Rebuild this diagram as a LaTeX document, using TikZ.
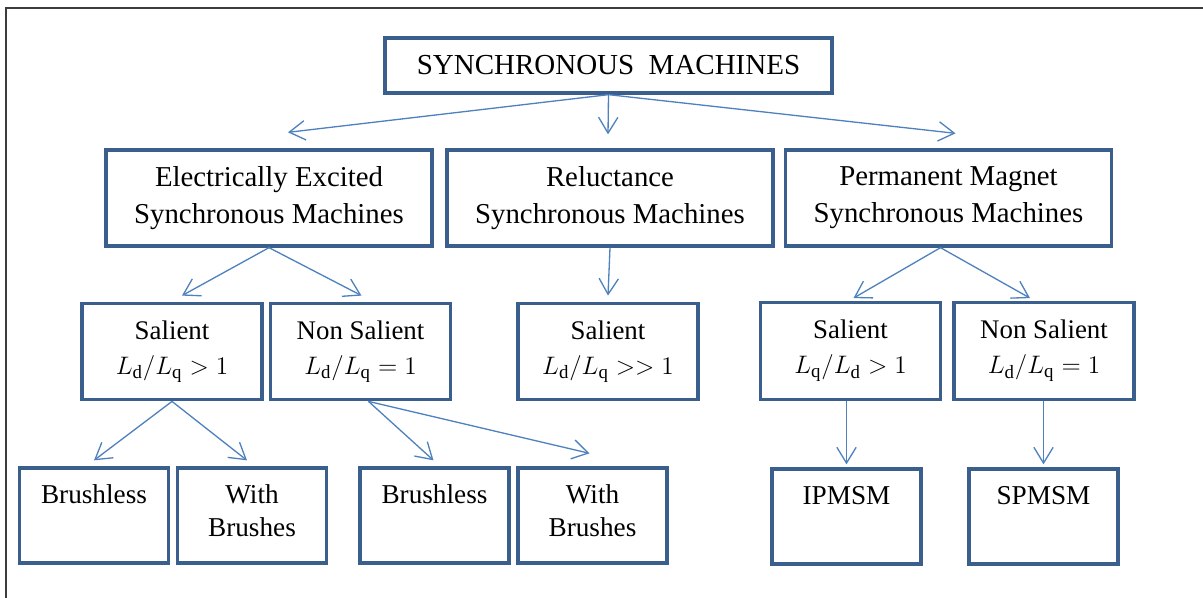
\documentclass[tikz,border=0pt]{standalone}
\usepackage{amsmath}
\usepackage{fontspec}
\setmainfont{Liberation Serif}
\usetikzlibrary{arrows.meta}
\definecolor{boxblue}{RGB}{58,95,140}
\definecolor{lineblue}{RGB}{79,129,189}
\definecolor{framegray}{RGB}{60,60,60}
\newcommand{\leaftext}[1]{\parbox[t][1.22cm][t]{2.8cm}{\centering #1}}
\tikzset{
  rootbox/.style={draw=boxblue, line width=1.9pt, minimum width=8.94cm, minimum height=1.1cm, font=\fontsize{16.5}{20}\selectfont},
  familybox/.style={draw=boxblue, line width=1.9pt, align=center, minimum width=6.52cm, minimum height=1.92cm, font=\fontsize{16.4}{21}\selectfont},
  typebox/.style={draw=boxblue, line width=1.9pt, align=center, minimum width=3.6cm, minimum height=1.93cm, font=\fontsize{15.3}{20}\selectfont},
  leafbox/.style={draw=boxblue, line width=1.9pt, inner sep=0pt, minimum width=2.98cm, minimum height=1.9cm, font=\fontsize{15.5}{18.5}\selectfont},
  conn/.style={draw=lineblue, line width=0.75pt, -{Straight Barb[length=9pt,width=11pt]}}
}

\begin{document}
\begin{tikzpicture}[x=0.02cm,y=-0.02cm]
\useasboundingbox (0,0) rectangle (1203,598);
\draw [framegray,line width=1.2pt] (6,598)--(6,8)--(1203,8);

\node [rootbox] (sm) at (608.5,65.5) {SYNCHRONOUS\ \ MACHINES};

\node [familybox] (ee) at (269,198) {Electrically Excited\\Synchronous Machines};
\node [familybox] (rel) at (610,198) {Reluctance\\Synchronous Machines};
\node [familybox] (pm) at (948.5,198) {Permanent Magnet\\Synchronous Machines};

\node [typebox] (ees) at (172,351.5) {Salient\\$L_{\mathrm{d}}/L_{\mathrm{q}} > 1$};
\node [typebox] (een) at (360.5,351.5) {Non Salient\\$L_{\mathrm{d}}/L_{\mathrm{q}} = 1$};
\node [typebox] (rels) at (608,351.5) {Salient\\$L_{\mathrm{d}}/L_{\mathrm{q}} >> 1$};
\node [typebox] (pms) at (850.5,351) {Salient\\$L_{\mathrm{q}}/L_{\mathrm{d}} > 1$};
\node [typebox] (pmn) at (1044,351) {Non Salient\\$L_{\mathrm{d}}/L_{\mathrm{q}} = 1$};

\node [leafbox] (b1) at (94,515.5) {\leaftext{Brushless}};
\node [leafbox] (w1) at (252,515.5) {\leaftext{With\\Brushes}};
\node [leafbox] (b2) at (434.5,515.5) {\leaftext{Brushless}};
\node [leafbox] (w2) at (592.5,515.5) {\leaftext{With\\Brushes}};
\node [leafbox] (ip) at (846.5,516.5) {\leaftext{IPMSM}};
\node [leafbox] (sp) at (1043.5,516.5) {\leaftext{SPMSM}};

\draw [conn] (sm.south)--([shift={(19,-16)}]ee.north);
\draw [conn] (sm.south)--([shift={(-2,-14)}]rel.north);
\draw [conn] (sm.south)--([shift={(7,-15)}]pm.north);
\draw [conn] (ee.south)--([shift={(10,-6)}]ees.north);
\draw [conn] (ee.south)--([shift={(1,-6)}]een.north);
\draw [conn] (rel.south)--([shift={(0,-6)}]rels.north);
\draw [conn] ([shift={(-8,0)}]pm.south)--([shift={(3,-3)}]pms.north);
\draw [conn] ([shift={(-8,0)}]pm.south)--([shift={(-14,-3)}]pmn.north);
\draw [conn] (ees.south)--([shift={(0,-6)}]b1.north);
\draw [conn] (ees.south)--([shift={(-5,-6)}]w1.north);
\draw [conn] ([shift={(8,0)}]een.south)--([shift={(-1,-6)}]b2.north);
\draw [conn] ([shift={(8,0)}]een.south)--([shift={(-3,-13)}]w2.north);
\draw [conn] (pms.south -| ip.north)--([shift={(0,-3)}]ip.north);
\draw [conn] (pmn.south -| sp.north)--([shift={(0,-3)}]sp.north);
\end{tikzpicture}
\end{document}
